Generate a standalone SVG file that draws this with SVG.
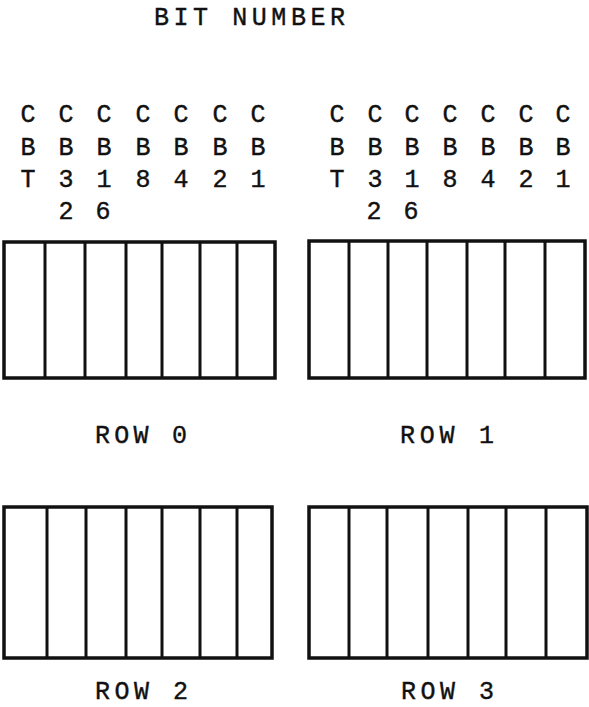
<svg xmlns="http://www.w3.org/2000/svg" width="589" height="707" viewBox="0 0 589 707">
<style>
  text { font-family: "Liberation Mono", "DejaVu Sans Mono", monospace; font-size: 25px; fill: #111; stroke: #111; stroke-width: 0.4; }
  .b { text-anchor: middle; }
  .frame { fill: #fff; stroke: #111; stroke-width: 3.5; }
  .div { stroke: #111; stroke-width: 3; }
</style>
<rect width="589" height="707" fill="#fff"/>

<g id="title">
  <text x="154" y="25" textLength="191" lengthAdjust="spacing">BIT NUMBER</text>
</g>

<g id="bits-left">
  <text class="b" x="28" y="122">C</text><text class="b" x="66" y="122">C</text><text class="b" x="104" y="122">C</text><text class="b" x="143" y="122">C</text><text class="b" x="181" y="122">C</text><text class="b" x="220" y="122">C</text><text class="b" x="258" y="122">C</text>
  <text class="b" x="28" y="155">B</text><text class="b" x="66" y="155">B</text><text class="b" x="104" y="155">B</text><text class="b" x="143" y="155">B</text><text class="b" x="181" y="155">B</text><text class="b" x="220" y="155">B</text><text class="b" x="258" y="155">B</text>
  <text class="b" x="28" y="187">T</text><text class="b" x="66" y="187">3</text><text class="b" x="104" y="187">1</text><text class="b" x="143" y="187">8</text><text class="b" x="181" y="187">4</text><text class="b" x="220" y="187">2</text><text class="b" x="258" y="187">1</text>
  <text class="b" x="66" y="219">2</text><text class="b" x="103" y="219">6</text>
</g>

<g id="bits-right">
  <text class="b" x="337" y="122">C</text><text class="b" x="375" y="122">C</text><text class="b" x="412" y="122">C</text><text class="b" x="450" y="122">C</text><text class="b" x="488" y="122">C</text><text class="b" x="526" y="122">C</text><text class="b" x="563" y="122">C</text>
  <text class="b" x="337" y="155">B</text><text class="b" x="375" y="155">B</text><text class="b" x="412" y="155">B</text><text class="b" x="450" y="155">B</text><text class="b" x="488" y="155">B</text><text class="b" x="526" y="155">B</text><text class="b" x="563" y="155">B</text>
  <text class="b" x="337" y="187">T</text><text class="b" x="375" y="187">3</text><text class="b" x="412" y="187">1</text><text class="b" x="450" y="187">8</text><text class="b" x="488" y="187">4</text><text class="b" x="526" y="187">2</text><text class="b" x="563" y="187">1</text>
  <text class="b" x="374" y="219">2</text><text class="b" x="411" y="219">6</text>
</g>

<g id="row0">
  <rect class="frame" x="4" y="242" width="271" height="136"/>
  <path class="div" d="M45 242V378M85 242V378M126 242V378M162 242V378M200 242V378M237 242V378"/>
  <text x="95" y="443" textLength="92" lengthAdjust="spacing">ROW 0</text>
</g>

<g id="row1">
  <rect class="frame" x="309" y="241" width="276" height="137"/>
  <path class="div" d="M349 241V378M388 241V378M427 241V378M467 241V378M505 241V378M545 241V378"/>
  <text x="400" y="443" textLength="94" lengthAdjust="spacing">ROW 1</text>
</g>

<g id="row2">
  <rect class="frame" x="4" y="507" width="268" height="151"/>
  <path class="div" d="M47 507V658M86 507V658M126 507V658M162 507V658M200 507V658M237 507V658"/>
  <text x="95" y="699" textLength="93" lengthAdjust="spacing">ROW 2</text>
</g>

<g id="row3">
  <rect class="frame" x="309" y="507" width="278" height="151"/>
  <path class="div" d="M349 507V658M387 507V658M428 507V658M468 507V658M506 507V658M546 507V658"/>
  <text x="401" y="699" textLength="93" lengthAdjust="spacing">ROW 3</text>
</g>
</svg>
